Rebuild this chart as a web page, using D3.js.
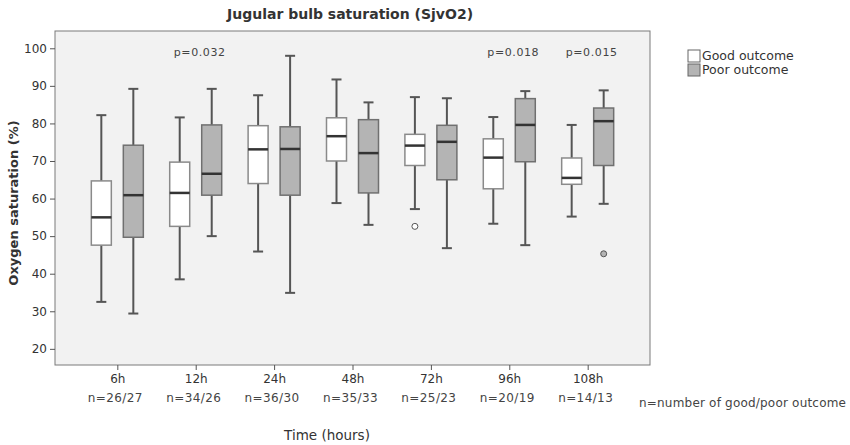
<!DOCTYPE html>
<html>
<head>
<meta charset="utf-8">
<script src="https://cdn.jsdelivr.net/npm/d3@7"></script>
<style>
  body { margin: 0; background: #fff; }
  svg { display: block; }
  text { font-family: "DejaVu Sans", Verdana, sans-serif; }
</style>
</head>
<body>
<svg id="chart" width="850" height="445"></svg>
<script>
// ---- data ----
const categories = ["6h", "12h", "24h", "48h", "72h", "96h", "108h"];
const nLabels = ["n=26/27", "n=34/26", "n=36/30", "n=35/33", "n=25/23", "n=20/19", "n=14/13"];
const yTicks = [20, 30, 40, 50, 60, 70, 80, 90, 100];
// [min whisker, Q1, median, Q3, max whisker]
const goodOutcome = [
  [32.5, 47.6, 55.0, 64.7, 82.2],
  [38.5, 52.6, 61.5, 69.7, 81.6],
  [45.9, 64.0, 73.1, 79.4, 87.5],
  [58.8, 70.0, 76.6, 81.5, 91.7],
  [57.2, 68.8, 74.1, 77.1, 87.0],
  [53.3, 62.6, 70.9, 75.9, 81.7],
  [55.2, 63.8, 65.5, 70.8, 79.6]
];
const poorOutcome = [
  [29.4, 49.7, 60.9, 74.2, 89.2],
  [50.0, 60.9, 66.6, 79.6, 89.2],
  [34.9, 60.9, 73.2, 79.1, 98.0],
  [53.0, 61.5, 72.1, 81.0, 85.6],
  [46.8, 65.0, 75.1, 79.5, 86.7],
  [47.6, 69.8, 79.6, 86.6, 88.6],
  [58.6, 68.8, 80.6, 84.1, 88.8]
];
const goodOutliers = [{ cat: "72h", value: 52.6 }];
const poorOutliers = [{ cat: "108h", value: 45.3 }];
const pValues = [
  { cat: "12h", label: "p=0.032" },
  { cat: "96h", label: "p=0.018" },
  { cat: "108h", label: "p=0.015" }
];
const seriesNames = ["Good outcome", "Poor outcome"];
const seriesFills = ["#ffffff", "#b4b4b4"];

// ---- layout ----
const plot = { left: 55, top: 31, right: 650, bottom: 365 };
const svg = d3.select("#chart");

const x = d3.scalePoint().domain(categories).range([plot.left, plot.right]).padding(0.795);
const sub = d3.scalePoint().domain(["good", "poor"]).range([-16, 16]);
const y = d3.scaleLinear().domain([15.7, 104.6]).range([plot.bottom, plot.top]);

// background frame
svg.append("rect")
  .attr("x", plot.left).attr("y", plot.top)
  .attr("width", plot.right - plot.left).attr("height", plot.bottom - plot.top)
  .attr("fill", "#f2f2f2").attr("stroke", "#7a7a7a").attr("stroke-width", 1);

// y axis
const yAxis = svg.append("g")
  .attr("transform", `translate(${plot.left},0)`)
  .call(d3.axisLeft(y).tickValues(yTicks).tickSize(5).tickPadding(3).tickFormat(d3.format("d")));
yAxis.select(".domain").remove();
yAxis.selectAll("line").attr("stroke", "#555");
yAxis.selectAll("text").attr("fill", "#333").style("font-size", "12px")
  .style("font-family", "'DejaVu Sans', Verdana, sans-serif");

// x axis
const xAxis = svg.append("g")
  .attr("transform", `translate(0,${plot.bottom})`)
  .call(d3.axisBottom(x).tickSize(5).tickPadding(4));
xAxis.select(".domain").remove();
xAxis.selectAll("line").attr("stroke", "#555");
xAxis.selectAll("text").attr("fill", "#333").style("font-size", "12px")
  .style("font-family", "'DejaVu Sans', Verdana, sans-serif");

// n labels
svg.append("g").selectAll("text").data(categories).join("text")
  .attr("x", d => x(d) - 2)
  .attr("y", 402)
  .attr("text-anchor", "middle")
  .attr("fill", "#444")
  .style("font-size", "12px")
  .style("letter-spacing", "0.4px")
  .text((d, i) => nLabels[i]);

// boxes
const boxW = 20, capW = 10;
function drawSeries(data, key, fill, stroke) {
  const g = svg.append("g");
  data.forEach((s, i) => {
    const cx = x(categories[i]) + sub(key);
    const [mn, q1, md, q3, mx] = s;
    g.append("line").attr("x1", cx).attr("x2", cx).attr("y1", y(mx)).attr("y2", y(q3))
      .attr("stroke", "#555").attr("stroke-width", 2);
    g.append("line").attr("x1", cx).attr("x2", cx).attr("y1", y(q1)).attr("y2", y(mn))
      .attr("stroke", "#555").attr("stroke-width", 2);
    g.append("line").attr("x1", cx - capW / 2).attr("x2", cx + capW / 2).attr("y1", y(mx)).attr("y2", y(mx))
      .attr("stroke", "#555").attr("stroke-width", 2);
    g.append("line").attr("x1", cx - capW / 2).attr("x2", cx + capW / 2).attr("y1", y(mn)).attr("y2", y(mn))
      .attr("stroke", "#555").attr("stroke-width", 2);
    g.append("rect").attr("x", cx - boxW / 2).attr("y", y(q3))
      .attr("width", boxW).attr("height", y(q1) - y(q3))
      .attr("fill", fill).attr("stroke", stroke).attr("stroke-width", 1.5);
    g.append("line").attr("x1", cx - boxW / 2).attr("x2", cx + boxW / 2).attr("y1", y(md)).attr("y2", y(md))
      .attr("stroke", "#333").attr("stroke-width", 2.5);
  });
}
drawSeries(goodOutcome, "good", seriesFills[0], "#8a8a8a");
drawSeries(poorOutcome, "poor", seriesFills[1], "#707070");

// outliers
svg.append("g").selectAll("circle").data(goodOutliers).join("circle")
  .attr("cx", d => x(d.cat) + sub("good")).attr("cy", d => y(d.value)).attr("r", 3)
  .attr("fill", seriesFills[0]).attr("stroke", "#555").attr("stroke-width", 1);
svg.append("g").selectAll("circle").data(poorOutliers).join("circle")
  .attr("cx", d => x(d.cat) + sub("poor")).attr("cy", d => y(d.value)).attr("r", 3)
  .attr("fill", seriesFills[1]).attr("stroke", "#555").attr("stroke-width", 1);

// p-values
svg.append("g").selectAll("text").data(pValues).join("text")
  .attr("x", d => x(d.cat) + 4)
  .attr("y", 52)
  .attr("dy", "0.35em")
  .attr("text-anchor", "middle")
  .attr("fill", "#444")
  .style("font-size", "11px")
  .style("letter-spacing", "0.6px")
  .text(d => d.label);

// title
svg.append("text")
  .attr("x", 350).attr("y", 19)
  .attr("text-anchor", "middle")
  .attr("fill", "#333")
  .style("font-size", "14px").style("font-weight", "bold")
  .text("Jugular bulb saturation (SjvO2)");

// y label
svg.append("text")
  .attr("transform", `translate(18,203) rotate(-90)`)
  .attr("text-anchor", "middle")
  .attr("fill", "#333")
  .style("font-size", "13px").style("font-weight", "bold")
  .text("Oxygen saturation (%)");

// x label
svg.append("text")
  .attr("x", 327).attr("y", 440)
  .attr("text-anchor", "middle")
  .attr("fill", "#333")
  .style("font-size", "13.5px")
  .text("Time (hours)");

// n note
svg.append("text")
  .attr("x", 639).attr("y", 407)
  .attr("fill", "#444")
  .style("font-size", "12px")
  .style("letter-spacing", "0.2px")
  .text("n=number of good/poor outcome");

// legend
const legend = svg.append("g").attr("transform", "translate(688,50)");
seriesNames.forEach((name, i) => {
  const g = legend.append("g").attr("transform", `translate(0,${i * 14})`);
  g.append("rect").attr("x", 0).attr("y", 0).attr("width", 12).attr("height", 12)
    .attr("fill", seriesFills[i]).attr("stroke", "#666").attr("stroke-width", 1);
  g.append("text").attr("x", 14).attr("y", 6).attr("dy", "0.35em")
    .attr("fill", "#333").style("font-size", "12.5px").text(name);
});
</script>
</body>
</html>
